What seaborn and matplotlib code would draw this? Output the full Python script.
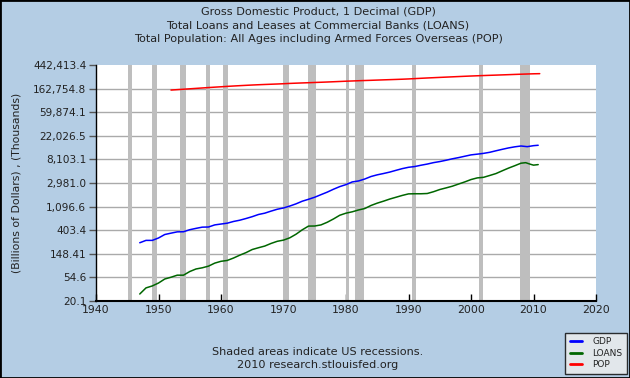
import numpy as np
import pandas as pd
import matplotlib
matplotlib.use("Agg")
import matplotlib.pyplot as plt
import seaborn as sns
from matplotlib.lines import Line2D

# ---- data ----
title_lines = ["Gross Domestic Product, 1 Decimal (GDP)",
               "Total Loans and Leases at Commercial Banks (LOANS)",
               "Total Population: All Ages including Armed Forces Overseas (POP)"]

gdp_years = [1947, 1948, 1949, 1950, 1951, 1952, 1953, 1954, 1955, 1956, 1957, 1958, 1959,
             1960, 1961, 1962, 1963, 1964, 1965, 1966, 1967, 1968, 1969, 1970, 1971, 1972,
             1973, 1974, 1975, 1976, 1977, 1978, 1979, 1980, 1981, 1982, 1983, 1984, 1985,
             1986, 1987, 1988, 1989, 1990, 1991, 1992, 1993, 1994, 1995, 1996, 1997, 1998,
             1999, 2000, 2001, 2002, 2003, 2004, 2005, 2006, 2007, 2008, 2009, 2010, 2010.75]
gdp_values = [237, 262, 262, 290, 336, 356, 376, 378, 412, 436, 459, 462, 505,
              524, 543, 584, 616, 662, 716, 785, 830, 905, 980, 1035, 1122, 1232,
              1378, 1495, 1632, 1820, 2025, 2290, 2558, 2785, 3120, 3250, 3530, 3925, 4215,
              4455, 4735, 5100, 5480, 5800, 5990, 6330, 6650, 7065, 7390, 7810, 8300, 8740,
              9260, 9810, 10120, 10460, 10950, 11680, 12420, 13170, 13800, 14300, 13900, 14500, 14750]

loans_years = [1947, 1948, 1949, 1950, 1951, 1952, 1953, 1954, 1955, 1956, 1957, 1958, 1959,
               1960, 1961, 1962, 1963, 1964, 1965, 1966, 1967, 1968, 1969, 1970, 1971, 1972,
               1973, 1974, 1975, 1976, 1977, 1978, 1979, 1980, 1981, 1982, 1983, 1984, 1985,
               1986, 1987, 1988, 1989, 1990, 1991, 1992, 1993, 1994, 1995, 1996, 1997, 1998,
               1999, 2000, 2001, 2002, 2003, 2004, 2005, 2006, 2007, 2008, 2008.75, 2009.5,
               2010, 2010.75]
loans_values = [27, 35, 38, 43, 51, 55, 60, 60, 70, 78, 82, 88, 100,
                108, 112, 124, 140, 156, 178, 192, 206, 230, 252, 265, 292, 340,
                410, 480, 482, 505, 565, 650, 760, 830, 880, 950, 1010, 1150, 1270,
                1380, 1510, 1630, 1760, 1880, 1890, 1890, 1910, 2060, 2260, 2420, 2600, 2850,
                3120, 3450, 3700, 3790, 4100, 4450, 5000, 5600, 6200, 6900, 7050, 6600,
                6350, 6500]

pop_years = list(range(1952, 2012))
pop_values = [153.0, 155.7, 158.5, 161.3, 164.2, 167.2, 170.1, 173.0, 175.8, 178.8,
              181.6, 184.3, 186.9, 189.4, 191.7, 193.8, 195.8, 197.8, 200.1, 202.7,
              204.9, 206.9, 208.9, 211.0, 213.0, 215.2, 217.6, 220.1, 222.7, 224.9,
              227.2, 229.3, 231.3, 233.5, 235.7, 237.8, 240.0, 242.3, 245.1, 248.5,
              251.9, 255.3, 258.4, 261.6, 264.7, 267.9, 271.1, 274.3, 277.4, 280.3,
              283.0, 285.7, 288.3, 291.0, 293.8, 296.7, 299.5, 302.2, 304.8, 306.5]
pop_values = [v * 1000 for v in pop_values]

recessions = [(1945.1, 1945.8), (1948.9, 1949.8), (1953.5, 1954.4), (1957.6, 1958.3),
              (1960.3, 1961.1), (1969.9, 1970.9), (1973.9, 1975.2), (1980.0, 1980.5),
              (1981.5, 1982.9), (1990.5, 1991.2), (2001.2, 2001.9), (2007.9, 2009.5)]

ytick_exponents = [3, 4, 5, 6, 7, 8, 9, 10, 11, 12, 13]
ytick_labels = ["20.1", "54.6", "148.41", "403.4", "1,096.6", "2,981.0", "8,103.1",
                "22,026.5", "59,874.1", "162,754.8", "442,413.4"]
xticks = [1940, 1950, 1960, 1970, 1980, 1990, 2000, 2010, 2020]

series_names = ["GDP", "LOANS", "POP"]
series_colors = {"GDP": "#0000FF", "LOANS": "#006600", "POP": "#FF0000"}

df = pd.concat([
    pd.DataFrame({"year": gdp_years, "value": gdp_values, "series": "GDP"}),
    pd.DataFrame({"year": loans_years, "value": loans_values, "series": "LOANS"}),
    pd.DataFrame({"year": pop_years, "value": pop_values, "series": "POP"}),
], ignore_index=True)

# ---- figure ----
sns.set_theme(style="white")
plt.rcParams['font.family'] = ['DejaVu Sans']
bg = "#B4CDE4"
txt = "#222222"
fig = plt.figure(figsize=(6.3, 3.78), dpi=100, facecolor=bg)
ax = fig.add_axes([96/630, 1-301/378, 500/630, 236/378])
ax.set_facecolor("white")

for s, e in recessions:
    ax.axvspan(s, e, color="#BEBEBE", lw=0, zorder=1)

yticks = [np.exp(k) for k in ytick_exponents]
ax.set_yscale("log")
ax.set_ylim(yticks[0], yticks[-1])
ax.set_yticks(yticks)
ax.set_yticklabels(ytick_labels)
ax.yaxis.set_minor_locator(matplotlib.ticker.NullLocator())
for yt in yticks[1:-1]:
    ax.axhline(yt, color="#AAAAAA", lw=1, zorder=0.5)

sns.lineplot(data=df, x="year", y="value", hue="series", palette=series_colors,
             hue_order=series_names, estimator=None, sort=True, lw=1.1,
             legend=False, ax=ax, zorder=3)

ax.set_xlim(1940, 2020)
ax.set_xticks(xticks)
ax.set_xlabel("")
ax.set_ylabel("(Billions of Dollars) , (Thousands)", fontsize=7.8, color=txt)
ax.yaxis.set_label_coords(-(96 - 21) / 500, 0.5)

for sp in ["top", "right"]:
    ax.spines[sp].set_visible(False)
ax.spines["left"].set_color("black")
ax.spines["bottom"].set_color("black")
ax.spines["left"].set_linewidth(1)
ax.spines["bottom"].set_linewidth(1.5)
ax.tick_params(axis="y", direction="out", length=5, width=1, color="#555555",
               labelsize=7.6, labelcolor=txt, left=True, pad=2)
ax.tick_params(axis="x", direction="in", length=5, width=1, color="black",
               labelsize=7.8, labelcolor=txt, bottom=True, pad=3)

for i, yy in enumerate([12, 26, 39]):
    fig.text(318/630, 1-yy/378, title_lines[i], ha="center", va="center",
             fontsize=8.1, color=txt)

fig.text(318/630, 1-352/378, "Shaded areas indicate US recessions.", ha="center", va="center",
         fontsize=8.1, color=txt)
fig.text(318/630, 1-365/378, "2010 research.stlouisfed.org", ha="center", va="center",
         fontsize=8.1, color=txt)

handles = [Line2D([0], [0], color=series_colors[n], lw=2) for n in series_names]
leg = fig.legend(handles, series_names, loc="lower right",
                 bbox_to_anchor=(627/630, 1-374/378), fontsize=6.5, frameon=True,
                 fancybox=False, handlelength=1.3, handletextpad=1.2, labelspacing=0.3,
                 borderpad=0.5, borderaxespad=0)
leg.get_frame().set_facecolor("#EEEEEE")
leg.get_frame().set_edgecolor("black")
leg.get_frame().set_linewidth(1)
for t in leg.get_texts():
    t.set_color(txt)

# outer border
fig.patches.append(matplotlib.patches.Rectangle((0, 0), 1, 1, transform=fig.transFigure,
                                                fill=False, edgecolor="black", lw=2))

fig.savefig("out.png", dpi=100, facecolor=bg)
